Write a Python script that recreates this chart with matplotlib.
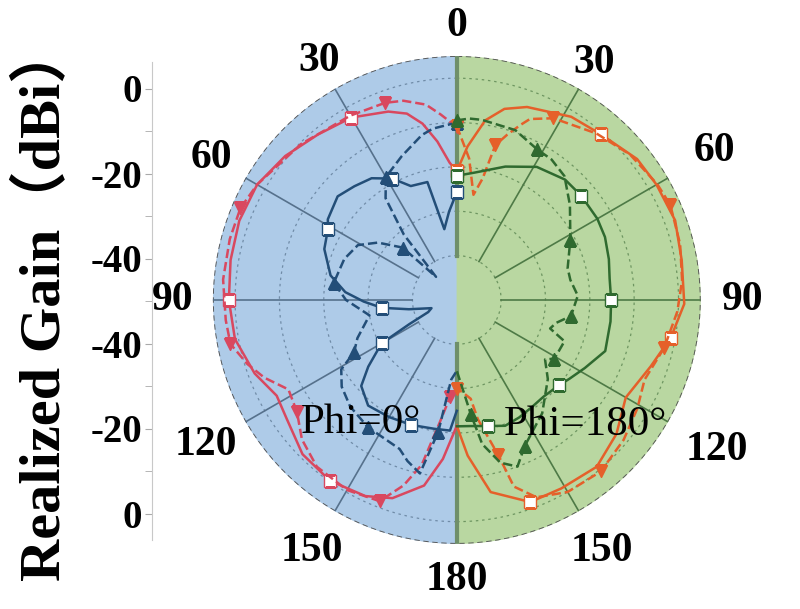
import numpy as np
import matplotlib.pyplot as plt

# realized gain (dBi) vs angle from boresight (deg)
# Phi = 0 deg half (left)
red_solid_ang = [0, 3, 7, 11, 15, 20, 30, 40, 50, 60, 70, 80, 90, 100, 110, 118, 125, 135, 145, 155, 162, 170, 175, 180]
red_solid_db = [-21, -19, -14, -9.5, -6.5, -4.8, -2.5, -1.3, 0.5, 2, 2.2, 1.8, 1.4, 0.8, -1.5, -4, -3.2, -0.8, -0.2, -1.2, -3, -7.5, -14, -21.6]
red_dash_ang = [0, 5, 9, 15, 20, 30, 45, 60, 67, 75, 85, 95, 101, 107, 112, 118, 125, 132, 140, 150, 159, 164, 168, 172, 176, 180]
red_dash_db = [-11, -8, -5.4, -3.5, -2.7, -2, -0.3, 2, 3, 3, 2.9, 2.3, 2, -0.6, -3.2, -7, -6, -3, -0.9, -0.5, -1.4, -6.5, -12, -22, -28, -30]
navy_solid_ang = [0, 5, 10, 14, 22, 28, 35, 42, 49, 58, 61, 69, 79, 86, 91, 96, 101, 108, 113, 117, 120, 127, 132, 140, 150, 160, 170, 177, 180]
navy_solid_db = [-25.7, -30, -33.8, -22.6, -22.3, -19, -16.5, -15.5, -14.4, -15.7, -16.8, -18, -21, -24.8, -29, -33, -39, -44, -43, -38, -30.4, -25, -21, -18.9, -19.5, -20, -20.5, -20.5, -25]
navy_dash_ang = [0, 8, 12, 21, 30, 35, 39, 42, 46, 54, 61, 70, 82, 90, 100, 111, 117, 121, 127, 135, 145, 159, 163, 168, 172, 176, 180]
navy_dash_db = [-10, -11, -12, -15.3, -18, -22, -31, -43, -33, -28, -24.5, -23, -22, -25, -30, -26, -24, -19.6, -17.5, -16, -15, -14, -12, -10, -20, -32, -34]

# Phi = 180 deg half (right)
orange_solid_ang = [0, 4, 9, 14, 20, 32, 41, 52, 60, 70, 80, 91, 100, 109, 120, 130, 140, 151, 160, 170, 176, 180]
orange_solid_db = [-21, -15.3, -9, -5.6, -3.7, -1.3, -0.5, 1.6, 2, 2.4, 1.5, 1.3, -1, -3.8, -6, -3, -0.9, -1.4, -1.5, -6, -14.8, -21.6]
orange_dash_ang = [0, 5, 9, 12, 14, 17, 20, 22, 28, 40, 50, 60, 66, 76, 85, 93, 103, 113, 121, 130, 140, 150, 158, 163, 165, 170, 172, 176, 180]
orange_dash_db = [-10.8, -18, -26, -22, -14, -11, -8, -6, -3.6, -1, 1, 2.2, 2.7, 1.9, 1, -0.2, -2, -4, -2.5, -0.9, 0.5, 0, -2, -6, -13.7, -22.7, -27.5, -29, -30]
green_solid_ang = [0, 8, 20, 31, 42, 50, 60, 67, 75, 82, 90, 98, 109, 118, 125, 130, 138, 145, 152, 159, 166, 174, 180]
green_solid_db = [-22, -21, -18, -15, -13.5, -13.4, -13.4, -13.7, -14.5, -15.2, -15.2, -15, -14.6, -17.3, -19, -20, -20.7, -20.5, -20, -19.6, -20.7, -21.4, -21.5]
green_dash_ang = [0, 4, 8, 19, 28, 34, 41, 50, 62, 74, 80, 88, 98, 103, 107, 111, 121, 124, 131, 143, 155, 160, 165, 170, 173, 175, 180]
green_dash_db = [-9.5, -9, -9, -9.5, -11.5, -11.8, -13, -16.7, -21, -24, -24, -22.7, -24, -27, -28, -24, -24.3, -26, -22.8, -18, -13.7, -10, -12, -17, -24, -28, -34]

angle_ticks = [0, 30, 60, 90, 120, 150, 180]
gain_ticks = [0, -20, -40]
grid_rings = [-40, -30, -20, -10, 0]
rmin, rmax = -50, 5

serif = ['Liberation Serif', 'DejaVu Serif']
fig = plt.figure(figsize=(8, 6.09), dpi=100)

ax = fig.add_axes([0.266, 0.107, 0.61, 0.801], projection='polar')
ax.set_theta_zero_location('N')
ax.set_theta_direction(-1)
ax.set_rlim(rmin, rmax)
ax.axis('off')

# half backgrounds
th = np.linspace(0, np.pi, 200)
ax.fill_between(-th, rmin, rmax, color='#aecbe8', zorder=0)
ax.fill_between(th, rmin, rmax, color='#b9d7a1', zorder=0)

# grid rings
for g in grid_rings:
    ax.plot(-th, [g] * len(th), color='#56718c', lw=0.9, ls=(0, (2, 3)), alpha=0.7, zorder=1)
    ax.plot(th, [g] * len(th), color='#4e7a46', lw=0.9, ls=(0, (2, 3)), alpha=0.7, zorder=1)
full = np.linspace(0, 2 * np.pi, 400)
ax.plot(full, [rmax] * len(full), color='#555555', lw=1.3, ls=(0, (3, 2)), zorder=1)

# spokes
for a in range(0, 360, 30):
    t = np.deg2rad(a)
    if a in (0, 180):
        ax.plot([t, t], [-40, rmax], color='#6f8f6a', lw=3, zorder=1)
    elif a > 180:
        ax.plot([t, t], [-40, rmax], color='#56718c', lw=1.2, zorder=1)
    else:
        ax.plot([t, t], [-40, rmax], color='#4e7a46', lw=1.2, zorder=1)


def draw(ang, db, side, color, ls, marker, mfc, every):
    t = np.deg2rad(np.array(ang, dtype=float)) * side
    ax.plot(t, db, color=color, ls=ls, lw=1.8, marker=marker, ms=8,
            mfc=mfc, mec=color, markevery=every, zorder=3)


draw(red_solid_ang, red_solid_db, -1, '#d9485f', '-', 's', 'white', 6)
draw(red_dash_ang, red_dash_db, -1, '#d9485f', '--', 'v', '#d9485f', 4)
draw(navy_solid_ang, navy_solid_db, -1, '#234e78', '-', 's', 'white', 5)
draw(navy_dash_ang, navy_dash_db, -1, '#234e78', '--', '^', '#234e78', 4)
draw(orange_solid_ang, orange_solid_db, 1, '#e5602a', '-', 's', 'white', 6)
draw(orange_dash_ang, orange_dash_db, 1, '#e5602a', '--', 'v', '#e5602a', 4)
draw(green_solid_ang, green_solid_db, 1, '#2f6a2f', '-', 's', 'white', 5)
draw(green_dash_ang, green_dash_db, 1, '#2f6a2f', '--', '^', '#2f6a2f', 4)

# angle labels on both halves (distance from centre in pixels)
px_per_db = 244 / (rmax - rmin)
left_px = [274, 276, 284, 284, 290, 290, 280]
right_px = [274, 274, 298, 286, 300, 290, 280]
for a, pl, pr in zip(angle_ticks, left_px, right_px):
    for s, p in ((1, pr), (-1, pl)):
        if s == -1 and a in (0, 180):
            continue
        ax.text(np.deg2rad(a * s), rmin + p / px_per_db, str(a), ha='center', va='center',
                fontsize=30, fontweight='bold', family=serif, clip_on=False)

fig.text(361 / 800, 1 - 423 / 609, 'Phi=0°', ha='center', va='center', fontsize=31, family=serif)
fig.text(585 / 800, 1 - 425 / 609, 'Phi=180°', ha='center', va='center', fontsize=31, family=serif)

# left gain scale (mirrored)
axl = fig.add_axes([152 / 800, 69 / 609, 0.001, 478 / 609])
half = 239 / 4.25
axl.set_ylim(-half, half)
pos = [g + 50 for g in gain_ticks]
axl.set_yticks(pos + [-p for p in pos])
axl.set_yticklabels([str(g) for g in gain_ticks] * 2, fontsize=28, fontweight='bold', family=serif)
axl.set_yticks([g + 50 for g in (-10, -30)] + [-(g + 50) for g in (-10, -30)] + [0], minor=True)
axl.tick_params(axis='y', which='both', direction='out', length=5, color='#aaaaaa', pad=2)
axl.set_xticks([])
for s in ('top', 'right', 'bottom'):
    axl.spines[s].set_visible(False)
axl.spines['left'].set_color('#c8c8c8')
axl.patch.set_alpha(0)

fig.text(0.054, 0.503, 'Realized Gain（dBi）', rotation=90, ha='center', va='center',
         fontsize=42, fontweight='bold', family=['Liberation Serif', 'Noto Sans CJK SC'])

plt.savefig('out.png', dpi=100)
